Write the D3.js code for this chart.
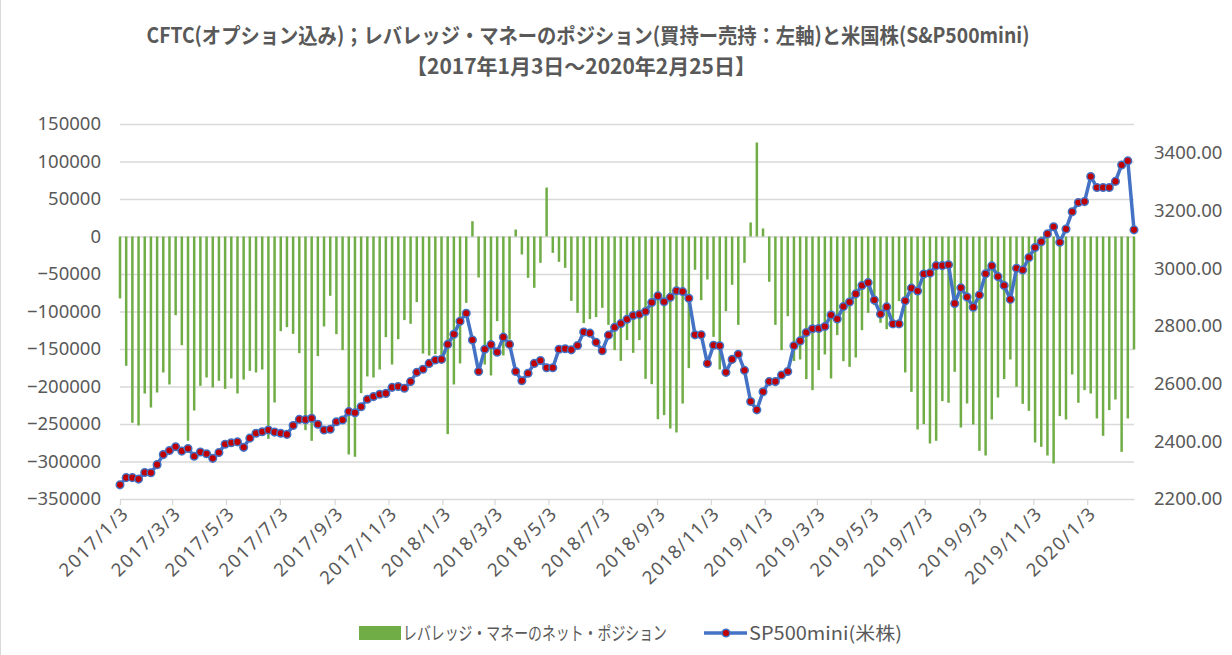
<html>

<head>
    <meta charset="utf-8">
    <script src="https://d3js.org/d3.v7.min.js"></script>
    <style>
        body { margin: 0; background: #fff; }
        text { fill: #595959; }
    </style>
</head>

<body>
    <svg id="svg" width="1232" height="655"></svg>

    <script>
        // DATA (weekly, every Tuesday from 2017/1/3 to 2020/2/25)
        const firstWeek = "2017/1/3"
        const lastWeek = "2020/2/25"

        // leveraged money net position (long - short), left axis
        const netPosition = [
            -82600, -172400, -248400, -252000, -209300, -228000, -208000, -181300, -197300, -104900,
            -144900, -272400, -232000, -199100, -188000, -201300, -192400, -203100, -189300, -209300,
            -190700, -179100, -181300, -177300, -269800, -221300, -126200, -120900, -129800, -155500,
            -258200, -272400, -159500, -120000, -79100, -130200, -151500, -290600, -293700, -208900,
            -186600, -188000, -177300, -134200, -170700, -136900, -111500, -116400, -87500, -156000,
            -158700, -156900, -163100, -263500, -197300, -169300, -88400, 20400, -54700, -170700,
            -185300, -112900, -158700, -137300, 9300, -24000, -55100, -68400, -35100, 65300,
            -21800, -33800, -41800, -85800, -101800, -115500, -110200, -107500, -95100, -117800,
            -151500, -165800, -138000, -155100, -138200, -189800, -196900, -243600, -238200, -256000,
            -261300, -222700, -175500, -44400, -84900, -57300, -133800, -177300, -99500, -64400,
            -117800, -35100, 18700, 125300, 10700, -60400, -117800, -151500, -106200, -166000,
            -164000, -190200, -204900, -178200, -157300, -189300, -131500, -166200, -173800, -161300,
            -124900, -101800, -91500, -115100, -123600, -117300, -86200, -181300, -207100, -257300,
            -250200, -276000, -272400, -219500, -221700, -180400, -254700, -222600, -250700, -285800,
            -292000, -244000, -214700, -190200, -164000, -200400, -223100, -232400, -274600, -280400,
            -292000, -302600, -239500, -244000, -184000, -221700, -204900, -209300, -242600, -265700,
            -231500, -217300, -287100, -242600, -150700
        ]

        // S&P500 mini, right axis
        const sp500 = [
            2249, 2274, 2274, 2269, 2292, 2291, 2319, 2354, 2368, 2381,
            2366, 2375, 2348, 2363, 2357, 2341, 2361, 2390, 2395, 2398,
            2379, 2411, 2428, 2433, 2439, 2432, 2428, 2424, 2455, 2476,
            2475, 2480, 2459, 2439, 2442, 2468, 2474, 2503, 2499, 2520,
            2546, 2555, 2563, 2566, 2587, 2590, 2584, 2607, 2639, 2650,
            2670, 2682, 2684, 2736, 2771, 2816, 2844, 2751, 2642, 2719,
            2735, 2709, 2761, 2736, 2642, 2610, 2636, 2670, 2680, 2655,
            2655, 2719, 2721, 2717, 2732, 2779, 2775, 2743, 2714, 2768,
            2795, 2808, 2823, 2836, 2840, 2850, 2881, 2904, 2884, 2899,
            2922, 2919, 2896, 2769, 2769, 2670, 2733, 2731, 2639, 2684,
            2702, 2646, 2538, 2509, 2572, 2607, 2607, 2630, 2642, 2731,
            2748, 2777, 2790, 2791, 2798, 2838, 2824, 2867, 2883, 2911,
            2940, 2950, 2890, 2841, 2866, 2807, 2807, 2887, 2931, 2921,
            2980, 2983, 3009, 3009, 3012, 2878, 2932, 2900, 2865, 2907,
            2981, 3008, 2971, 2940, 2892, 3000, 2994, 3037, 3072, 3092,
            3119, 3144, 3090, 3136, 3196, 3228, 3231, 3318, 3280, 3280,
            3280, 3301, 3358, 3372, 3133
        ]

        const leftTicks = [150000, 100000, 50000, 0, -50000, -100000, -150000, -200000, -250000, -300000, -350000]
        const rightTicks = [2200, 2400, 2600, 2800, 3000, 3200, 3400]
        const xTickLabels = ["2017/1/3", "2017/3/3", "2017/5/3", "2017/7/3", "2017/9/3", "2017/11/3",
            "2018/1/3", "2018/3/3", "2018/5/3", "2018/7/3", "2018/9/3", "2018/11/3",
            "2019/1/3", "2019/3/3", "2019/5/3", "2019/7/3", "2019/9/3", "2019/11/3", "2020/1/3"]

        const title1 = "CFTC(オプション込み)；レバレッジ・マネーのポジション(買持ー売持：左軸)と米国株(S&P500mini)"
        const title2 = "【2017年1月3日～2020年2月25日】"
        const legendBars = "レバレッジ・マネーのネット・ポジション"
        const legendLine = "SP500mini(米株)"

        // VARIABLES
        const parse = d3.timeParse("%Y/%m/%d")
        const plot = { left: 120, right: 1134, top: 124, bottom: 499 }
        const jp = '"Noto Sans CJK JP", sans-serif'
        const num = '"Noto Sans", sans-serif'
        const green = "#70AD47", blue = "#4472C4", red = "#C00000", grid = "#d9d9d9"

        const start = parse(firstWeek)
        const dates = netPosition.map((d, i) => d3.timeDay.offset(start, 7 * i))

        const x = d3.scaleTime().domain([start, parse(lastWeek)]).range([plot.left, plot.right])
        const yL = d3.scaleLinear().domain([-350000, 150000]).range([plot.bottom, plot.top])
        const yR = d3.scaleLinear().domain([2200, 3500]).range([plot.bottom, plot.top])

        const svg = d3.select("#svg")

        // chart border (left edge visible)
        svg.append("line").attr("x1", 0.5).attr("x2", 0.5).attr("y1", 0).attr("y2", 655)
            .attr("stroke", grid)

        // TITLE
        svg.append("text").attr("x", 588).attr("y", 43).attr("text-anchor", "middle")
            .attr("font-family", jp).attr("font-size", 21).attr("font-weight", "bold")
            .attr("textLength", 883).attr("lengthAdjust", "spacingAndGlyphs")
            .text(title1)
        svg.append("text").attr("x", 581).attr("y", 74).attr("text-anchor", "middle")
            .attr("font-family", jp).attr("font-size", 21).attr("font-weight", "bold")
            .attr("textLength", 350).attr("lengthAdjust", "spacingAndGlyphs")
            .text(title2)

        // GRID + LEFT AXIS
        const gl = svg.append("g").attr("transform", `translate(${plot.left},0)`)
            .call(d3.axisLeft(yL).tickValues(leftTicks).tickSize(-(plot.right - plot.left)).tickPadding(19).tickFormat(d3.format("d")))
        gl.select(".domain").remove()
        gl.selectAll(".tick line").attr("stroke", grid).attr("stroke-width", 1.3)
        gl.selectAll(".tick text").attr("font-family", num).attr("font-size", 18.5).attr("fill", "#595959")
        gl.selectAll(".tick").filter(d => d === -350000).select("line").remove()

        // RIGHT AXIS
        const gr = svg.append("g").attr("transform", `translate(${plot.right},0)`)
            .call(d3.axisRight(yR).tickValues(rightTicks).tickSize(0).tickPadding(20).tickFormat(d3.format(".2f")))
        gr.select(".domain").remove()
        gr.selectAll(".tick text").attr("font-family", num).attr("font-size", 18.5).attr("fill", "#595959")

        // BOTTOM AXIS
        const gx = svg.append("g").attr("transform", `translate(0,${plot.bottom})`)
            .call(d3.axisBottom(x).tickValues(xTickLabels.map(parse)).tickSize(6).tickSizeOuter(0)
                .tickFormat((d, i) => xTickLabels[i]))
        gx.select(".domain").attr("stroke", grid).attr("stroke-width", 1.3)
        gx.selectAll(".tick line").attr("stroke", grid).attr("stroke-width", 1.3)
        gx.selectAll(".tick text")
            .attr("font-family", num).attr("font-size", 18.5).attr("fill", "#595959")
            .attr("text-anchor", "end").attr("dy", "0.35em")
            .attr("textLength", (d, i) => xTickLabels[i].length * 11).attr("lengthAdjust", "spacing")
            .attr("transform", "translate(4,12) rotate(-45)")
            .attr("y", 0).attr("x", 0)

        // BARS
        svg.append("g").selectAll("rect")
            .data(netPosition)
            .enter().append("rect")
            .attr("x", (d, i) => x(dates[i]) - 1.25)
            .attr("width", 2.5)
            .attr("y", d => Math.min(yL(d), yL(0)))
            .attr("height", d => Math.abs(yL(d) - yL(0)))
            .attr("fill", green)

        // LINE
        const line = d3.line().x((d, i) => x(dates[i])).y(d => yR(d))
        svg.append("path").datum(sp500)
            .attr("fill", "none").attr("stroke", blue).attr("stroke-width", 3.5)
            .attr("stroke-linejoin", "round").attr("d", line)
        svg.append("g").selectAll("circle")
            .data(sp500)
            .enter().append("circle")
            .attr("cx", (d, i) => x(dates[i]))
            .attr("cy", d => yR(d))
            .attr("r", 3.8)
            .attr("fill", red).attr("stroke", blue).attr("stroke-width", 1.5)

        // LEGEND
        const lg = svg.append("g")
        lg.append("rect").attr("x", 359).attr("y", 626).attr("width", 42).attr("height", 14).attr("fill", green)
        lg.append("text").attr("x", 403).attr("y", 640).attr("font-family", jp).attr("font-size", 18.5)
            .attr("textLength", 264).attr("lengthAdjust", "spacingAndGlyphs").text(legendBars)
        lg.append("line").attr("x1", 704).attr("x2", 747).attr("y1", 633).attr("y2", 633)
            .attr("stroke", blue).attr("stroke-width", 3.5)
        lg.append("circle").attr("cx", 726).attr("cy", 633).attr("r", 3.8)
            .attr("fill", red).attr("stroke", blue).attr("stroke-width", 1.5)
        lg.append("text").attr("x", 749).attr("y", 640).attr("font-family", jp).attr("font-size", 18.5)
            .attr("textLength", 153).attr("lengthAdjust", "spacingAndGlyphs").text(legendLine)
    </script>
</body>

</html>
